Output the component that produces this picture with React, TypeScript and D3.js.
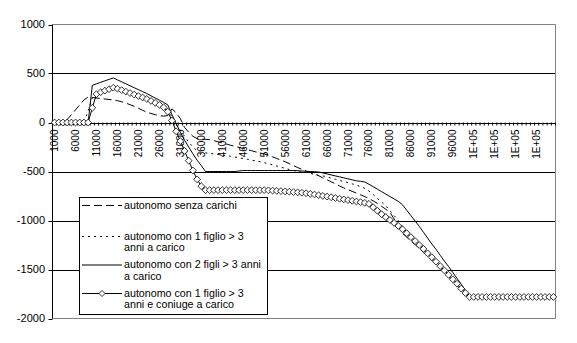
import React from "react";
import * as d3 from "d3";

const categories: number[] = d3.range(1, 121).map((k) => k * 1000);

const xTickCategories: number[] = [
  1000, 6000, 11000, 16000, 21000, 26000, 31000, 36000, 41000, 46000, 51000, 56000,
  61000, 66000, 71000, 76000, 81000, 86000, 91000, 96000, 101000, 106000, 111000, 116000,
];
const xTickLabels: string[] = [
  "1000", "6000", "11000", "16000", "21000", "26000", "31000", "36000", "41000", "46000",
  "51000", "56000", "61000", "66000", "71000", "76000", "81000", "86000", "91000", "96000",
  "1E+05", "1E+05", "1E+05", "1E+05",
];
const yTicks: number[] = [1000, 500, 0, -500, -1000, -1500, -2000];
const yGrid: number[] = [500, 0, -500, -1000, -1500];

const seriesNames: string[][] = [
  ["autonomo senza carichi"],
  ["autonomo con 1 figlio > 3", "anni a carico"],
  ["autonomo con 2 figli > 3 anni", "a carico"],
  ["autonomo con 1 figlio > 3", "anni e coniuge a carico"],
];

const senzaCarichi: number[] = [
  0, 0, 0, 30, 80, 130, 180, 230, 260, 255,
  250, 245, 240, 235, 230, 222, 212, 198, 182, 165,
  145, 125, 105, 92, 80, 70, 65, 70, 140, 100,
  40, -50, -100, -140, -165, -170, -172, -175, -185, -197,
  -208, -220, -232, -243, -254, -265, -276, -288, -300, -311,
  -322, -333, -350, -367, -384, -400, -420, -440, -460, -478,
  -495, -510, -525, -543, -565, -585, -605, -625, -648, -668,
  -685, -703, -720, -738, -756, -775, -800, -825, -855, -885,
  -915, -985, -1060, -1130, -1170, -1210, -1245, -1285, -1325, -1365,
  -1405, -1445, -1485, -1530, -1575, -1620, -1665, -1710, -1750, -1780,
  -1780, -1780, -1780, -1780, -1780, -1780, -1780, -1780, -1780, -1780,
  -1780, -1780, -1780, -1780, -1780, -1780, -1780, -1780, -1780, -1780,
];

const unFiglio: number[] = [
  0, 0, 0, 0, 0, 0, 0, 0, 120, 250,
  300, 318, 333, 348, 362, 352, 338, 323, 308, 293,
  278, 263, 248, 228, 208, 188, 163, 120, 60, -20,
  -80, -140, -200, -250, -290, -305, -310, -315, -320, -325,
  -332, -338, -345, -352, -360, -368, -376, -384, -392, -400,
  -410, -420, -432, -444, -456, -468, -480, -490, -500, -505,
  -510, -520, -530, -540, -545, -555, -568, -580, -592, -603,
  -614, -626, -640, -655, -672, -700, -735, -775, -810, -850,
  -900, -950, -1000, -1060, -1120, -1170, -1210, -1250, -1290, -1335,
  -1375, -1420, -1465, -1510, -1555, -1600, -1645, -1695, -1740, -1780,
  -1780, -1780, -1780, -1780, -1780, -1780, -1780, -1780, -1780, -1780,
  -1780, -1780, -1780, -1780, -1780, -1780, -1780, -1780, -1780, -1780,
];

const dueFigli: number[] = [
  0, 0, 0, 0, 0, 0, 0, 0, 0, 380,
  395, 410, 425, 440, 455, 435, 415, 395, 375, 355,
  335, 315, 295, 272, 250, 228, 205, 180, 80, -10,
  -100, -180, -250, -320, -385, -440, -500, -500, -500, -500,
  -500, -500, -500, -500, -495, -490, -490, -490, -490, -490,
  -490, -490, -490, -490, -490, -490, -490, -490, -492, -495,
  -498, -500, -502, -505, -515, -525, -535, -545, -555, -565,
  -575, -585, -595, -600, -607, -630, -655, -680, -705, -730,
  -755, -780, -805, -840, -895, -950, -1005, -1060, -1120, -1180,
  -1240, -1295, -1355, -1415, -1470, -1530, -1590, -1650, -1710, -1780,
  -1780, -1780, -1780, -1780, -1780, -1780, -1780, -1780, -1780, -1780,
  -1780, -1780, -1780, -1780, -1780, -1780, -1780, -1780, -1780, -1780,
];

const figlioConiuge: number[] = [
  0, 0, 0, 0, 0, 0, 0, 0, 0, 150,
  290, 310, 325, 340, 355, 345, 330, 315, 300, 285,
  270, 255, 240, 220, 200, 180, 155, 110, 20, -90,
  -190, -290, -390, -490, -580, -650, -690, -690, -690, -690,
  -690, -690, -690, -690, -690, -690, -690, -690, -690, -690,
  -690, -692, -695, -698, -700, -703, -706, -710, -713, -717,
  -722, -728, -735, -742, -749, -756, -763, -771, -778, -785,
  -792, -799, -806, -813, -820, -830, -865, -900, -935, -965,
  -995, -1025, -1055, -1090, -1130, -1170, -1210, -1250, -1290, -1335,
  -1375, -1420, -1465, -1510, -1555, -1600, -1645, -1695, -1740, -1780,
  -1780, -1780, -1780, -1780, -1780, -1780, -1780, -1780, -1780, -1780,
  -1780, -1780, -1780, -1780, -1780, -1780, -1780, -1780, -1780, -1780,
];

const W = 577;
const H = 343;
const LEFT = 52.5;
const RIGHT = 555.5;
const TOP = 24.5;
const BOTTOM = 318.5;
const FONT = "'Liberation Sans', Arial, sans-serif";

const dashStyles = ["8,4", "2,4", null, null];

export default function App() {
  const x = d3.scaleBand<number>().domain(categories).range([LEFT, RIGHT]).padding(0);
  const bw = x.bandwidth();
  const cx = (c: number) => (x(c) as number) + bw / 2;
  const y = d3.scaleLinear().domain([-2000, 1000]).range([BOTTOM, TOP]);
  const y0 = y(0);

  const allSeries = [senzaCarichi, unFiglio, dueFigli, figlioConiuge];
  const line = d3
    .line<number>()
    .x((_, i) => cx(categories[i]))
    .y((v) => y(v));

  const diamond = (px: number, py: number, r = 3.4) =>
    `M${px},${py - r}L${px + r},${py}L${px},${py + r}L${px - r},${py}Z`;

  const boundaries = d3.range(0, categories.length + 1).map((k) => LEFT + k * bw);

  const legendX = 79.5;
  const legendY = 197.5;
  const legendW = 188;
  const legendH = 117;
  const legendRows = [205, 236, 264.5, 293];
  const lineGap = 11.6;

  return (
    <svg
      width={W}
      height={H}
      style={{ position: "fixed", left: 0, top: 0, background: "#fff" }}
      fontFamily={FONT}
    >
      <rect x={0} y={0} width={W} height={H} fill="#fff" />
      {/* grid lines */}
      {yGrid.map((v) => (
        <line key={v} x1={LEFT} x2={RIGHT} y1={Math.round(y(v)) + 0.5} y2={Math.round(y(v)) + 0.5} stroke="#000" strokeWidth={1} />
      ))}
      {/* frame */}
      <polyline
        points={`${LEFT},${TOP} ${RIGHT},${TOP} ${RIGHT},${BOTTOM} ${LEFT},${BOTTOM}`}
        fill="none"
        stroke="#808080"
        strokeWidth={1}
      />
      {/* y axis */}
      <line x1={LEFT} x2={LEFT} y1={TOP} y2={BOTTOM} stroke="#000" />
      {yTicks.map((v) => (
        <g key={v}>
          <line x1={LEFT - 4} x2={LEFT} y1={Math.round(y(v)) + 0.5} y2={Math.round(y(v)) + 0.5} stroke="#000" />
          <text x={45} y={y(v)} dy="0.35em" textAnchor="end" fontSize={11} fill="#000">
            {v}
          </text>
        </g>
      ))}
      {/* x axis ticks */}
      {boundaries.map((bx, k) => (
        <line key={k} x1={bx} x2={bx} y1={y0} y2={y0 + 3} stroke="#000" />
      ))}
      {xTickCategories.map((c, k) => (
        <text
          key={k}
          transform={`translate(${cx(c)},${y0 + 7}) rotate(-90)`}
          dy="0.35em"
          textAnchor="end"
          fontSize={10}
          fill="#000"
        >
          {xTickLabels[k]}
        </text>
      ))}
      {/* series */}
      {allSeries.map((s, si) => (
        <path
          key={si}
          d={line(s) || ""}
          fill="none"
          stroke="#000"
          strokeWidth={1}
          strokeDasharray={dashStyles[si] || undefined}
        />
      ))}
      {figlioConiuge.map((v, i) => (
        <path key={i} d={diamond(cx(categories[i]), y(v))} fill="#fff" stroke="#000" strokeWidth={0.8} />
      ))}
      {/* legend */}
      <rect x={legendX} y={legendY} width={legendW} height={legendH} fill="#fff" stroke="#000" />
      {seriesNames.map((lines, si) => {
        const ry = legendRows[si];
        return (
          <g key={si}>
            <line
              x1={82}
              x2={122}
              y1={ry + 0.5}
              y2={ry + 0.5}
              stroke="#000"
              strokeDasharray={dashStyles[si] || undefined}
            />
            {si === 3 && <path d={diamond(102, ry + 0.5, 3)} fill="#fff" stroke="#000" strokeWidth={0.8} />}
            {lines.map((t, li) => (
              <text key={li} x={124} y={ry + li * lineGap} dy="0.35em" fontSize={10.7} fill="#000">
                {t}
              </text>
            ))}
          </g>
        );
      })}
    </svg>
  );
}
